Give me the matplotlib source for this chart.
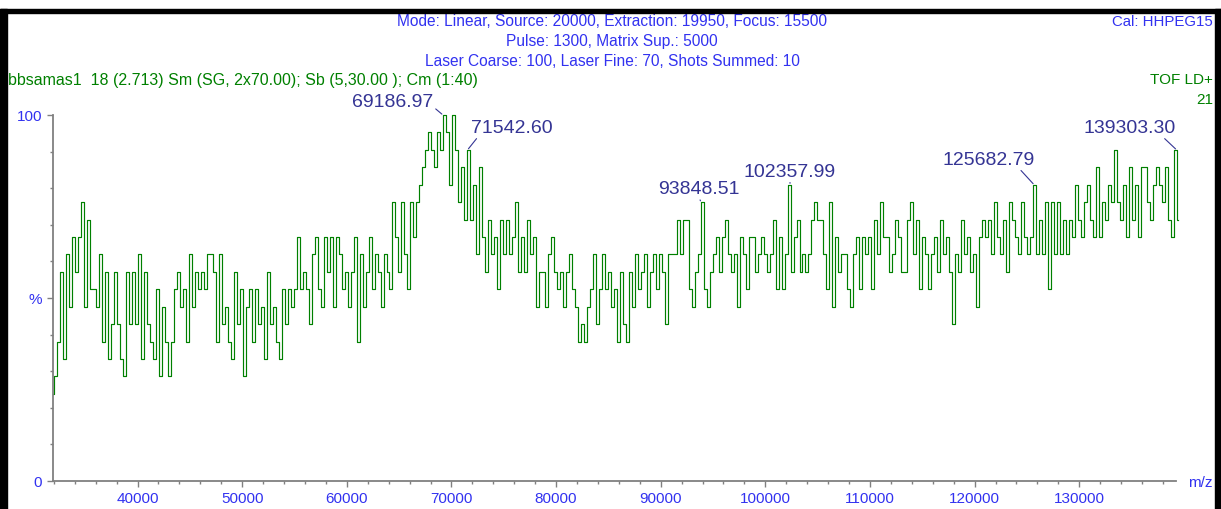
import numpy as np
import matplotlib
matplotlib.use("Agg")
import matplotlib.pyplot as plt
from matplotlib.patches import Rectangle

plt.rcParams['font.family'] = ['Liberation Sans', 'DejaVu Sans']

# Spectrum: raw counts (max = 21) on an even m/z grid
mz_start = 31900.0
mz_end = 139450.0
counts = [
    5, 6, 8, 12, 7, 13, 10, 14, 12, 14, 16, 10, 15, 11, 11, 10, 13, 8, 12, 7,
    9, 12, 9, 7, 6, 12, 9, 12, 9, 13, 7, 12, 9, 8, 7, 11, 6, 10, 8, 6,
    8, 11, 12, 10, 11, 8, 13, 10, 12, 11, 12, 11, 13,
    13, 12, 8, 13, 9, 10, 8, 7, 12, 9, 11, 6, 10, 11, 8, 11, 9, 10, 7, 12,
    9, 10, 8, 7, 11, 9, 11, 10, 11, 14, 11, 12, 11, 9, 13, 14, 11, 10, 14, 12,
    14, 10, 14, 13, 11, 12, 10, 12, 14, 8, 13, 10, 12,
    14, 11, 13, 12, 10, 13, 12, 11, 16, 14, 12, 16, 13, 11, 16, 14, 16, 17, 18, 19,
    20, 19, 18, 20, 19, 21, 20, 17, 21, 19, 16, 18, 15, 19, 15, 17, 13, 18, 14, 12,
    15, 13, 14, 11, 15, 13, 15, 13, 14, 16, 12, 14, 12,
    15, 13, 14, 10, 12, 12, 10, 13, 14, 12, 11, 12, 10, 12, 13, 11, 10, 8, 9, 8,
    10, 11, 13, 9, 11, 13, 11, 12, 10, 11, 8, 12, 9, 8, 12, 10, 13, 11, 12, 13,
    10, 12, 13, 11, 13, 12, 9, 13, 13, 13, 15, 13, 15,
    15, 11, 10, 12, 13, 16, 11, 10, 12, 13, 14, 12, 14, 15, 13, 12, 13, 10, 14, 13,
    11, 14, 14, 12, 13, 14, 13, 12, 13, 15, 11, 14, 11, 13, 17, 12, 14, 15, 12, 13,
    12, 13, 15, 16, 15, 15, 13, 11, 16, 10, 14, 12, 13,
    13, 11, 10, 13, 14, 11, 14, 13, 14, 11, 15, 13, 16, 14, 14, 12, 13, 15, 14, 12,
    12, 15, 16, 13, 15, 11, 14, 13, 11, 13, 14, 12, 15, 13, 14, 12, 9, 13, 12, 15,
    13, 14, 12, 13, 10, 14, 15, 14, 15, 13, 16, 14, 13, 15, 12,
    16, 15, 14, 13, 16, 14, 13, 14, 17, 13, 15, 13, 16, 11, 16, 13, 16, 13, 15, 13,
    15, 14, 17, 15, 14, 16, 17, 15, 14, 18, 14, 16, 15, 17, 16, 19, 16, 15, 17, 14,
    18, 15, 17, 14, 18, 18, 16, 15, 17, 18, 17, 16, 18, 15, 14, 19, 15,
]
max_count = 21

# labelled peaks and where their labels sit (pixel offsets from the peak)
peak_mz = [69186.97, 71542.60, 93848.51, 102357.99, 125682.79, 139303.30]
label_offset = [(-10, 5), (3, 14), (-2, 5), (0, 5), (1, 17), (-1, 14)]
label_ha = ['right', 'left', 'center', 'center', 'right', 'right']
leader_pos = [(1.0, 0.2), (0.1, 0.0), (0.5, 0.0), (0.5, 0.0), (0.82, 0.0), (0.85, 0.0)]

header_lines = [
    "Mode: Linear, Source: 20000, Extraction: 19950, Focus: 15500",
    "Pulse: 1300, Matrix Sup.: 5000",
    "Laser Coarse: 100, Laser Fine: 70, Shots Summed: 10",
]
sample_line = "bbsamas1  18 (2.713) Sm (SG, 2x70.00); Sb (5,30.00 ); Cm (1:40)"

BLUE = '#3232F0'
NAVY = '#343494'
GREEN = '#008000'
GREY = '#808080'

W, H = 1221, 510
fig = plt.figure(figsize=(W / 100, H / 100), dpi=100)
fig.patch.set_facecolor('white')

# axes box in pixel terms
x0, x1, y_top, y_bot = 52.6, 1176.0, 116.0, 482.0
ax = fig.add_axes([x0 / W, 1 - y_bot / H, (x1 - x0) / W, (y_bot - y_top) / H])

mz = np.linspace(mz_start, mz_end, len(counts))
pct = np.array(counts) / max_count * 100.0
ax.plot(mz, pct, color=GREEN, lw=0.85, drawstyle='steps-mid', clip_on=False)

ax.set_xlim(31880, 139250)
ax.set_ylim(0, 100)

for side in ['top', 'right']:
    ax.spines[side].set_visible(False)
for side in ['left', 'bottom']:
    ax.spines[side].set_color(GREY)
    ax.spines[side].set_linewidth(1.3)

ax.set_xticks(np.arange(40000, 139000, 10000))
ax.set_xticks(np.arange(32000, 139500, 2000), minor=True)
ax.set_yticks([0, 50, 100])
ax.set_yticklabels(['0', '%', '100'])
ax.set_yticks(np.arange(10, 100, 10), minor=True)
ax.tick_params(which='major', length=4.5, width=1, color=GREY,
               labelcolor=BLUE, labelsize=11, pad=2.5)
ax.tick_params(which='minor', length=2.3, width=1, color=GREY)
ax.tick_params(axis='y', which='major', pad=3)

fig.text(1188 / W, 1 - 483 / H, "m/z", color=BLUE, fontsize=11,
         ha='left', va='center')

# peak labels with leader lines
for mzp, off, ha, rp in zip(peak_mz, label_offset, label_ha, leader_pos):
    idx = int(round((mzp - mz_start) / (mz[1] - mz[0])))
    top = pct[max(idx - 1, 0):idx + 2].max()
    ax.annotate(f"{mzp:.2f}", xy=(mzp, top), xytext=off,
                textcoords='offset pixels', ha=ha, va='bottom',
                color=NAVY, fontsize=14, annotation_clip=False,
                arrowprops=dict(arrowstyle='-', color=NAVY, lw=0.8,
                                shrinkA=0, shrinkB=1, relpos=rp))

# acquisition header
for k, line in enumerate(header_lines):
    fig.text(612 / W, 1 - (22 + 19.5 * k) / H, line, color=BLUE,
             fontsize=11.2, ha='center', va='center')
fig.text(1213 / W, 1 - 22 / H, "Cal: HHPEG15", color=BLUE, fontsize=10.8,
         ha='right', va='center')
fig.text(8 / W, 1 - 80 / H, sample_line, color=GREEN, fontsize=11.5,
         ha='left', va='center')
fig.text(1213 / W, 1 - 80 / H, "TOF LD+", color=GREEN, fontsize=11,
         ha='right', va='center')
fig.text(1213 / W, 1 - 100 / H, str(max_count), color=GREEN, fontsize=11,
         ha='right', va='center')

# black window frame
fig.patches.append(Rectangle((0, 0), 7 / W, 1 - 10 / H, transform=fig.transFigure,
                             color='black', zorder=5))
fig.patches.append(Rectangle((1215 / W, 0), 6 / W, 1 - 10 / H, transform=fig.transFigure,
                             color='black', zorder=5))
fig.patches.append(Rectangle((0, 1 - 14 / H), 1, 4 / H, transform=fig.transFigure,
                             color='black', zorder=5))

fig.savefig("out.png", dpi=100)
